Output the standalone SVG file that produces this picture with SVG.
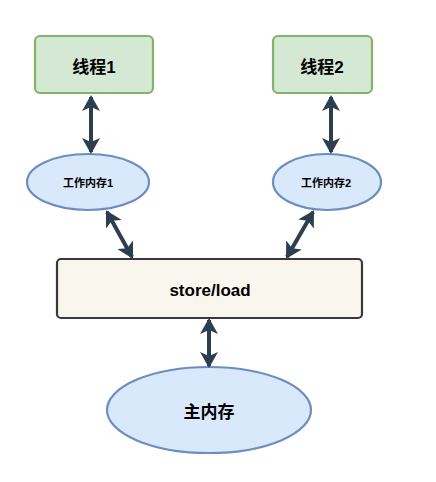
<svg xmlns="http://www.w3.org/2000/svg" width="436" height="482" viewBox="0 0 436 482">
<defs>
<style>
.thread{fill:#d5e8d4;stroke:#82b366;stroke-width:2.2}
.work{fill:#dae8fc;stroke:#6c8ebf;stroke-width:2.2}
.bus{fill:#f9f7ed;stroke:#36393d;stroke-width:2.2}
.t{font-family:"Liberation Sans","Noto Sans CJK SC",sans-serif;font-weight:bold;fill:#000;text-anchor:middle;dominant-baseline:central}
.conn line{stroke:#2d3e50;stroke-width:4}
</style>
<marker id="ah" viewBox="0 0 16 18" refX="14" refY="9" markerWidth="16" markerHeight="18" markerUnits="userSpaceOnUse" orient="auto-start-reverse">
<path d="M0,0 L16,9 L0,18 L4,9 Z" fill="#2d3e50"/>
</marker>
</defs>
<rect width="436" height="482" fill="#fff"/>
<g id="thread1">
<rect class="thread" x="35" y="36" width="118" height="57" rx="5"/>
<text class="t" x="94" y="67" font-size="17">线程1</text>
</g>
<g id="thread2">
<rect class="thread" x="273" y="36" width="99" height="57" rx="5"/>
<text class="t" x="322" y="67" font-size="17">线程2</text>
</g>
<g id="work1">
<ellipse class="work" cx="88" cy="182" rx="61" ry="28"/>
<text class="t" x="88" y="183" font-size="11">工作内存1</text>
</g>
<g id="work2">
<ellipse class="work" cx="327" cy="182" rx="54" ry="28"/>
<text class="t" x="326" y="183" font-size="11">工作内存2</text>
</g>
<g id="storeload">
<rect class="bus" x="57" y="259" width="305" height="59" rx="4"/>
<text class="t" x="210" y="290" font-size="17">store/load</text>
</g>
<g id="mainmem">
<ellipse class="work" cx="209" cy="410" rx="102" ry="43"/>
<text class="t" x="209" y="412" font-size="17">主内存</text>
</g>
<g id="connectors" class="conn">
<line x1="91" y1="97" x2="91" y2="152" marker-start="url(#ah)" marker-end="url(#ah)"/>
<line x1="331" y1="97" x2="331" y2="152" marker-start="url(#ah)" marker-end="url(#ah)"/>
<line x1="107" y1="212" x2="132" y2="257" marker-start="url(#ah)" marker-end="url(#ah)"/>
<line x1="313" y1="212" x2="287" y2="257" marker-start="url(#ah)" marker-end="url(#ah)"/>
<line x1="209" y1="320" x2="209" y2="366" marker-start="url(#ah)" marker-end="url(#ah)"/>
</g>
</svg>
